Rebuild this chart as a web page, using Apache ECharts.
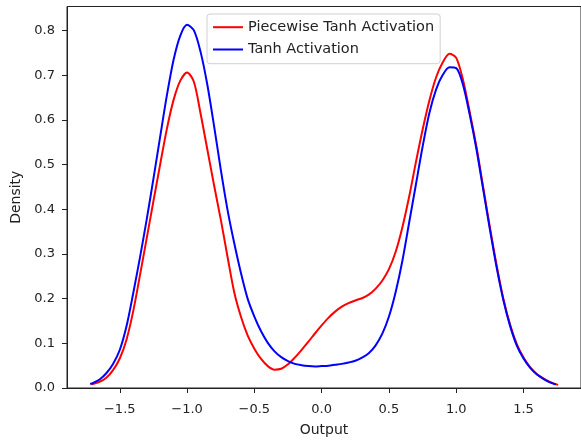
<!DOCTYPE html>
<html>
<head>
<meta charset="utf-8">
<script src="https://cdn.jsdelivr.net/npm/echarts@6/dist/echarts.min.js"></script>
<style>html,body{margin:0;padding:0;background:#fff}#c{width:581px;height:442px}</style>
</head>
<body>
<div id="c"></div>
<script>
const seriesNames = ['Piecewise Tanh Activation', 'Tanh Activation'];
const xTicks = [-1.5, -1.0, -0.5, 0.0, 0.5, 1.0, 1.5];
const yTicks = [0.0, 0.1, 0.2, 0.3, 0.4, 0.5, 0.6, 0.7, 0.8];

const piecewiseTanh = [
  [-1.71,0.008],[-1.70,0.009],[-1.65,0.014],[-1.60,0.023],[-1.55,0.040],[-1.50,0.066],
  [-1.45,0.108],[-1.40,0.172],[-1.35,0.252],[-1.30,0.335],[-1.25,0.418],[-1.20,0.500],
  [-1.15,0.580],[-1.10,0.645],[-1.05,0.688],[-1.00,0.706],[-0.95,0.686],[-0.90,0.615],
  [-0.85,0.535],[-0.80,0.455],[-0.75,0.378],[-0.70,0.295],[-0.65,0.215],[-0.60,0.160],
  [-0.55,0.118],[-0.50,0.088],[-0.45,0.065],[-0.40,0.049],[-0.35,0.041],[-0.30,0.043],
  [-0.25,0.053],[-0.20,0.068],[-0.15,0.085],[-0.10,0.103],[-0.05,0.122],[0.00,0.140],
  [0.05,0.157],[0.10,0.171],[0.15,0.182],[0.20,0.190],[0.25,0.196],[0.30,0.201],
  [0.35,0.209],[0.40,0.222],[0.45,0.240],[0.50,0.266],[0.55,0.305],[0.60,0.360],
  [0.65,0.428],[0.70,0.505],[0.75,0.578],[0.80,0.643],[0.85,0.695],[0.90,0.729],
  [0.95,0.748],[1.00,0.739],[1.05,0.690],[1.10,0.618],[1.15,0.540],[1.20,0.450],
  [1.25,0.360],[1.30,0.275],[1.35,0.200],[1.40,0.142],[1.45,0.098],[1.50,0.068],
  [1.55,0.046],[1.60,0.031],[1.65,0.021],[1.70,0.013],[1.757,0.007]
];
const tanhAct = [
  [-1.72,0.009],[-1.70,0.011],[-1.65,0.019],[-1.60,0.033],[-1.55,0.054],[-1.50,0.085],
  [-1.45,0.138],[-1.40,0.212],[-1.35,0.292],[-1.30,0.377],[-1.25,0.468],[-1.20,0.562],
  [-1.15,0.655],[-1.10,0.735],[-1.05,0.789],[-1.00,0.813],[-0.95,0.801],[-0.90,0.753],
  [-0.85,0.680],[-0.80,0.588],[-0.75,0.490],[-0.70,0.400],[-0.65,0.325],[-0.60,0.258],
  [-0.55,0.200],[-0.50,0.160],[-0.45,0.127],[-0.40,0.101],[-0.35,0.082],[-0.30,0.069],
  [-0.25,0.060],[-0.20,0.054],[-0.15,0.051],[-0.10,0.049],[-0.05,0.048],[0.00,0.049],
  [0.05,0.050],[0.10,0.052],[0.15,0.054],[0.20,0.057],[0.25,0.061],[0.30,0.068],
  [0.35,0.078],[0.40,0.095],[0.45,0.121],[0.50,0.160],[0.55,0.215],[0.60,0.285],
  [0.65,0.370],[0.70,0.455],[0.75,0.540],[0.80,0.615],[0.85,0.668],[0.90,0.701],
  [0.95,0.718],[1.00,0.716],[1.05,0.679],[1.10,0.612],[1.15,0.535],[1.20,0.445],
  [1.25,0.355],[1.30,0.270],[1.35,0.197],[1.40,0.139],[1.45,0.095],[1.50,0.066],
  [1.55,0.045],[1.60,0.030],[1.65,0.020],[1.70,0.012],[1.74,0.008]
];

function fmt(v) {
  const s = Math.abs(v).toFixed(1);
  return (v < -1e-9 ? '\u2212' : '') + s;
}
const FONT = '"DejaVu Sans", sans-serif';
const chart = echarts.init(document.getElementById('c'), null, {renderer: 'canvas'});
chart.setOption({
  animation: false,
  backgroundColor: '#ffffff',
  grid: {left: 67, right: -5.4, top: 6.5, bottom: 48.3, show: true, borderColor: '#222', borderWidth: 1, containLabel: false},
  legend: {
    data: seriesNames.map(n => ({name: n, icon: 'rect'})),
    orient: 'vertical',
    left: 207, top: 14,
    padding: [5.7, 6, 6.7, 6],
    itemWidth: 30, itemHeight: 2, itemGap: 7.3, itemTextGap: 16,
    backgroundColor: 'rgba(255,255,255,0.8)',
    borderColor: '#d0d0d0', borderWidth: 1, borderRadius: 3,
    textStyle: {fontFamily: FONT, fontSize: 14.5, color: '#222', lineHeight: 14}
  },
  xAxis: {
    type: 'value', min: -1.892, max: 1.927,
    name: 'Output', nameLocation: 'middle', nameGap: 35,
    nameTextStyle: {fontFamily: FONT, fontSize: 14, color: '#222'},
    splitLine: {show: false},
    axisLine: {show: true, onZero: false, lineStyle: {color: '#222', width: 1}},
    axisTick: {show: true, length: 5, lineStyle: {color: '#222'}, customValues: xTicks},
    axisLabel: {fontFamily: FONT, fontSize: 13, color: '#222', margin: 15, customValues: xTicks, formatter: fmt}
  },
  yAxis: {
    type: 'value', min: 0, max: 0.854,
    name: 'Density', nameLocation: 'middle', nameGap: 35, nameRotate: 90,
    nameTextStyle: {fontFamily: FONT, fontSize: 14, color: '#222'},
    splitLine: {show: false},
    axisLine: {show: true, onZero: false, lineStyle: {color: '#222', width: 1}},
    axisTick: {show: true, length: 5, lineStyle: {color: '#222'}, customValues: yTicks},
    axisLabel: {fontFamily: FONT, fontSize: 13, color: '#222', margin: 12, customValues: yTicks, formatter: fmt}
  },
  series: [
    {name: seriesNames[0], type: 'line', data: piecewiseTanh, symbol: 'none', smooth: 0.3, color: '#ff0000', lineStyle: {width: 2, color: '#ff0000'}, z: 2},
    {name: seriesNames[1], type: 'line', data: tanhAct, symbol: 'none', smooth: 0.3, color: '#0000ff', lineStyle: {width: 2, color: '#0000ff'}, z: 3}
  ]
});
</script>
</body>
</html>
